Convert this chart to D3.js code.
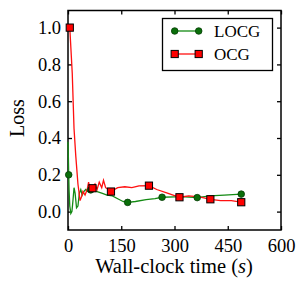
<!DOCTYPE html>
<html>
<head>
<meta charset="utf-8">
<script src="https://cdn.jsdelivr.net/npm/d3@7"></script>
<style>
  body { margin: 0; background: #fff; }
  text { font-family: "Liberation Serif", "DejaVu Serif", serif; fill: #000; }
</style>
</head>
<body>
<svg id="chart"></svg>
<script>
// data
const locgTime = [0, 1, 2, 3, 5, 8, 11, 14, 17, 20, 24, 28, 32, 36, 40, 45, 50, 55, 64, 80, 95, 110, 125, 140, 155, 168, 190, 220, 245, 265, 300, 330, 364, 400, 440, 488];
const locgLoss = [0.38, 0.3, 0.2, 0.12, 0.03, -0.01, 0.0, 0.06, 0.13, 0.1, 0.02, 0.03, 0.1, 0.12, 0.09, 0.11, 0.12, 0.11, 0.118, 0.11, 0.1, 0.09, 0.085, 0.07, 0.055, 0.05, 0.055, 0.065, 0.07, 0.078, 0.08, 0.08, 0.076, 0.085, 0.09, 0.095];
const locgMarks = [2, 18, 25, 29, 32, 35];

const ocgTime = [5, 12, 17, 22, 28, 34, 38, 42, 48, 54, 58, 62, 69, 76, 82, 88, 95, 100, 106, 114, 121, 140, 160, 180, 200, 228, 250, 280, 314, 340, 370, 401, 430, 460, 488];
const ocgLoss = [1.0, 0.75, 0.45, 0.3, 0.15, 0.06, 0.08, 0.11, 0.09, 0.12, 0.16, 0.12, 0.127, 0.15, 0.12, 0.16, 0.13, 0.17, 0.13, 0.12, 0.109, 0.13, 0.135, 0.13, 0.14, 0.141, 0.12, 0.1, 0.078, 0.085, 0.08, 0.067, 0.06, 0.06, 0.051];
const ocgMarks = [0, 12, 20, 25, 28, 31, 34];

const xTicks = [0, 150, 300, 450, 600];
const yTicks = [0.0, 0.2, 0.4, 0.6, 0.8, 1.0];

const W = 306, H = 291;
const mLeft = 68, mRight = 281, mTop = 10.5, mBottom = 230;

const svg = d3.select("#chart").attr("width", W).attr("height", H);

const x = d3.scaleLinear().domain([0, 600]).range([mLeft, mRight]);
const y = d3.scaleLinear().domain([-0.1, 1.093]).range([mBottom, mTop]);

// axes with inward ticks on all sides
const fmt = d3.format(".1f");
svg.append("g").attr("transform", "translate(0," + mBottom + ")")
    .call(d3.axisBottom(x).tickValues(xTicks).tickSizeInner(-4).tickSizeOuter(0).tickPadding(9));
svg.append("g").attr("transform", "translate(0," + mTop + ")")
    .call(d3.axisTop(x).tickValues(xTicks).tickSizeInner(-4).tickSizeOuter(0).tickFormat(""));
svg.append("g").attr("transform", "translate(" + mLeft + ",0)")
    .call(d3.axisLeft(y).tickValues(yTicks).tickSizeInner(-4).tickSizeOuter(0).tickPadding(7).tickFormat(fmt));
svg.append("g").attr("transform", "translate(" + mRight + ",0)")
    .call(d3.axisRight(y).tickValues(yTicks).tickSizeInner(-4).tickSizeOuter(0).tickFormat(""));

svg.selectAll(".domain").remove();
svg.selectAll(".tick line").attr("stroke", "#000").attr("stroke-width", 1.3);
svg.selectAll(".tick text").style("font-size", "18.5px").attr("fill", "#111");

svg.append("rect")
    .attr("x", mLeft).attr("y", mTop)
    .attr("width", mRight - mLeft).attr("height", mBottom - mTop)
    .attr("fill", "none").attr("stroke", "#000").attr("stroke-width", 1.5);

const line = d3.line().x(d => x(d[0])).y(d => y(d[1]));
const locg = locgTime.map((t, i) => [t, locgLoss[i]]);
const ocg = ocgTime.map((t, i) => [t, ocgLoss[i]]);

svg.append("path").datum(locg).attr("d", line)
    .attr("fill", "none").attr("stroke", "#138a13").attr("stroke-width", 1.3);
svg.append("path").datum(ocg).attr("d", line)
    .attr("fill", "none").attr("stroke", "#ff1010").attr("stroke-width", 1.3);

svg.selectAll(".mg").data(locgMarks.map(i => locg[i])).enter().append("circle")
    .attr("cx", d => x(d[0])).attr("cy", d => y(d[1])).attr("r", 3.3)
    .attr("fill", "#0a6e0a").attr("stroke", "#053d05").attr("stroke-width", 0.8);
svg.selectAll(".mr").data(ocgMarks.map(i => ocg[i])).enter().append("rect")
    .attr("x", d => x(d[0]) - 3.6).attr("y", d => y(d[1]) - 3.6)
    .attr("width", 7.2).attr("height", 7.2)
    .attr("fill", "#ff0000").attr("stroke", "#000").attr("stroke-width", 1);

// legend
const lg = svg.append("g");
lg.append("rect").attr("x", 162.5).attr("y", 18.5).attr("width", 110).attr("height", 52)
    .attr("fill", "#fff").attr("stroke", "#000").attr("stroke-width", 1.3);
lg.append("line").attr("x1", 174.7).attr("x2", 198.7).attr("y1", 31).attr("y2", 31)
    .attr("stroke", "#138a13").attr("stroke-width", 1.3);
lg.append("circle").attr("cx", 174.7).attr("cy", 31).attr("r", 3.3).attr("fill", "#0a6e0a").attr("stroke", "#053d05").attr("stroke-width", 0.8);
lg.append("circle").attr("cx", 198.7).attr("cy", 31).attr("r", 3.3).attr("fill", "#0a6e0a").attr("stroke", "#053d05").attr("stroke-width", 0.8);
lg.append("line").attr("x1", 174.7).attr("x2", 198.7).attr("y1", 54).attr("y2", 54)
    .attr("stroke", "#ff1010").attr("stroke-width", 1.3);
[174.7, 198.7].forEach(cx => {
    lg.append("rect").attr("x", cx - 3.6).attr("y", 54 - 3.6).attr("width", 7.2).attr("height", 7.2)
        .attr("fill", "#ff0000").attr("stroke", "#000").attr("stroke-width", 1);
});
lg.append("text").attr("x", 214).attr("y", 37).style("font-size", "17px").text("LOCG");
lg.append("text").attr("x", 214).attr("y", 60).style("font-size", "17px").text("OCG");

// axis labels
const xl = svg.append("text").attr("x", (mLeft + mRight) / 2 - 0.5).attr("y", 273)
    .attr("text-anchor", "middle").style("font-size", "20.5px");
xl.append("tspan").text("Wall-clock time (");
xl.append("tspan").style("font-style", "italic").text("s");
xl.append("tspan").text(")");

svg.append("text").attr("transform", "translate(24,118) rotate(-90)")
    .attr("text-anchor", "middle").style("font-size", "20px").text("Loss");
</script>
</body>
</html>
